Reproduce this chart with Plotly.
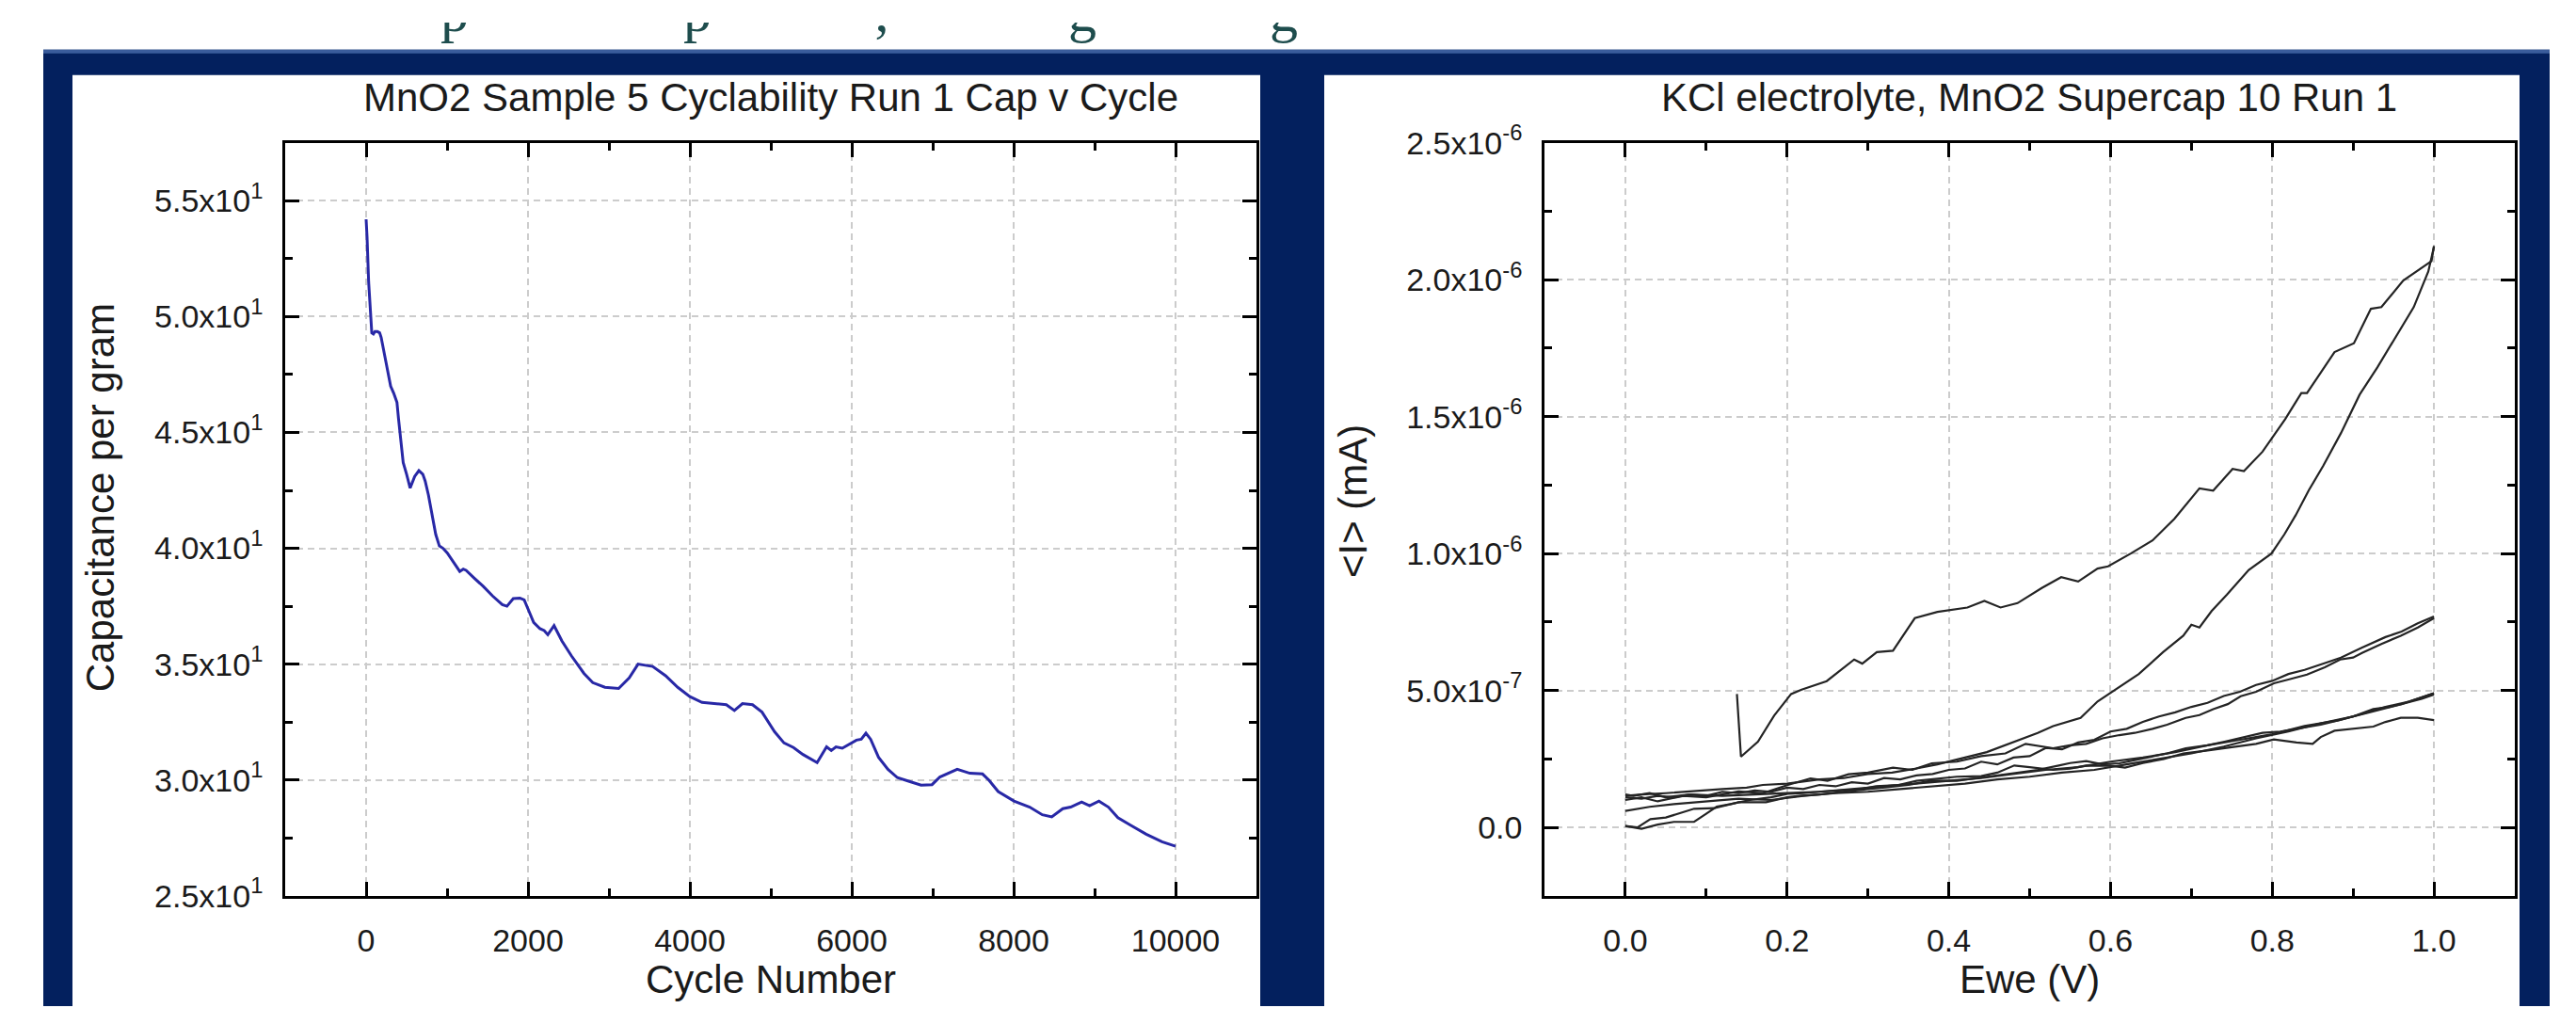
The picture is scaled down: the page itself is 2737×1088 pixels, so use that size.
import plotly.graph_objects as go

W, H = 2737, 1088

# ---------------- Left chart data: capacitance vs cycle ----------------
cycles = [0, 12, 31, 50, 70, 90, 109, 140, 167, 186, 230, 264, 303, 340, 381, 400, 420, 458, 500, 544,
          600, 652, 700, 730, 770, 808, 860, 905, 950, 1002, 1080, 1157, 1200, 1235, 1340, 1449, 1560,
          1682, 1740, 1818, 1900, 1953, 2010, 2070, 2148, 2200, 2245, 2322, 2419, 2536, 2691, 2800,
          2950, 3120, 3250, 3360, 3450, 3540, 3700, 3850, 4000, 4150, 4300, 4450, 4550, 4650, 4774,
          4891, 5047, 5163, 5280, 5397, 5572, 5689, 5747, 5805, 5883, 5981, 6058, 6117, 6175, 6233,
          6331, 6447, 6564, 6720, 6856, 6992, 7089, 7303, 7459, 7615, 7693, 7809, 8004, 8198, 8354,
          8471, 8607, 8704, 8840, 8938, 9054, 9171, 9288, 9444, 9638, 9833, 10000]
capacitance = [54.2, 53.4, 51.5, 50.2, 49.3, 49.25, 49.35, 49.35, 49.3, 49.1, 48.3, 47.6, 47.0, 46.7,
               46.3, 45.6, 45.0, 43.7, 43.2, 42.6, 43.1, 43.35, 43.2, 42.9, 42.3, 41.6, 40.6, 40.1,
               40.0, 39.8, 39.4, 39.0, 39.1, 39.05, 38.7, 38.35, 37.95, 37.57, 37.5, 37.83, 37.85,
               37.77, 37.3, 36.8, 36.53, 36.45, 36.27, 36.66, 36.0, 35.36, 34.6, 34.2, 34.0, 33.95,
               34.4, 35.0, 34.95, 34.9, 34.5, 34.0, 33.6, 33.35, 33.3, 33.25, 33.0, 33.3, 33.25,
               32.93, 32.08, 31.6, 31.4, 31.1, 30.75, 31.43, 31.27, 31.43, 31.37, 31.56, 31.72, 31.76,
               32.02, 31.76, 30.98, 30.46, 30.1, 29.93, 29.78, 29.8, 30.13, 30.46, 30.29, 30.26, 30.0,
               29.5, 29.09, 28.83, 28.5, 28.41, 28.76, 28.83, 29.05, 28.89, 29.09, 28.83, 28.37,
               28.05, 27.66, 27.33, 27.14]

cap_tickvals = [25, 30, 35, 40, 45, 50, 55]
cap_ticktext = ["2.5x10<sup>1</sup>", "3.0x10<sup>1</sup>", "3.5x10<sup>1</sup>", "4.0x10<sup>1</sup>",
                "4.5x10<sup>1</sup>", "5.0x10<sup>1</sup>", "5.5x10<sup>1</sup>"]
cap_minor = [27.5, 32.5, 37.5, 42.5, 47.5, 52.5]

# ---------------- Right chart data: CV sweeps (current in units of 1e-7 mA) ----------------
c1f_v = [0.138, 0.143, 0.164, 0.184, 0.205, 0.218, 0.249, 0.270, 0.283, 0.293, 0.311, 0.331, 0.358,
         0.386, 0.406, 0.423, 0.444, 0.464, 0.485, 0.515, 0.539, 0.560, 0.584, 0.597, 0.625, 0.652,
         0.679, 0.710, 0.727, 0.751, 0.765, 0.788, 0.816, 0.836, 0.843, 0.877, 0.901, 0.922, 0.935,
         0.962, 0.997, 1.0]
c1f_i = [4.87, 2.58, 3.13, 4.08, 4.87, 5.03, 5.34, 5.82, 6.13, 5.98, 6.40, 6.45, 7.64, 7.87, 7.95,
         8.03, 8.27, 8.03, 8.19, 8.74, 9.14, 8.98, 9.45, 9.53, 10.0, 10.48, 11.27, 12.38, 12.30,
         13.09, 13.01, 13.72, 14.91, 15.86, 15.86, 17.36, 17.68, 18.94, 19.0, 19.97, 20.68, 21.23]

c1r_v = [1.0, 0.993, 0.975, 0.952, 0.93, 0.908, 0.885, 0.863, 0.845, 0.829, 0.815, 0.799, 0.785,
         0.771, 0.744, 0.725, 0.71, 0.700, 0.69, 0.665, 0.635, 0.61, 0.584, 0.563, 0.545, 0.529,
         0.51, 0.488, 0.47, 0.447, 0.42, 0.386, 0.36, 0.33, 0.30, 0.27, 0.24, 0.2, 0.17, 0.15, 0.12,
         0.1, 0.07, 0.05, 0.02, 0.0]
c1r_i = [21.2, 20.3, 19.0, 17.9, 16.8, 15.8, 14.4, 13.2, 12.3, 11.4, 10.7, 10.0, 9.7, 9.4, 8.5, 7.9,
         7.3, 7.4, 7.0, 6.4, 5.6, 5.1, 4.6, 4.0, 3.85, 3.7, 3.45, 3.2, 3.0, 2.75, 2.55, 2.3, 2.15,
         2.0, 1.95, 1.8, 1.75, 1.6, 1.55, 1.45, 1.4, 1.35, 1.3, 1.25, 1.2, 1.15]

c2f_v = [0.0, 0.02, 0.04, 0.072, 0.1, 0.14, 0.17, 0.201, 0.229, 0.25, 0.276, 0.3, 0.331, 0.355,
         0.379, 0.41, 0.44, 0.47, 0.495, 0.529, 0.55, 0.57, 0.59, 0.611, 0.63, 0.652, 0.67, 0.693,
         0.71, 0.727, 0.745, 0.761, 0.78, 0.802, 0.82, 0.843, 0.865, 0.884, 0.9, 0.911, 0.935,
         0.959, 0.98, 1.0]
c2f_i = [1.0, 1.1, 0.95, 1.15, 1.1, 1.31, 1.25, 1.55, 1.79, 1.7, 1.94, 2.0, 2.18, 2.1, 2.34, 2.4,
         2.6, 2.7, 3.05, 2.89, 3.0, 3.05, 3.25, 3.37, 3.45, 3.6, 3.75, 4.0, 4.1, 4.32, 4.5, 4.79,
         4.95, 5.26, 5.4, 5.58, 5.85, 6.13, 6.2, 6.37, 6.7, 7.0, 7.3, 7.64]

c2r_v = [1.0, 0.98, 0.96, 0.94, 0.91, 0.885, 0.86, 0.84, 0.82, 0.8, 0.78, 0.76, 0.74, 0.72, 0.7,
         0.68, 0.66, 0.64, 0.62, 0.6, 0.58, 0.56, 0.54, 0.52, 0.5, 0.48, 0.46, 0.44, 0.42, 0.4,
         0.38, 0.36, 0.34, 0.32, 0.3, 0.28, 0.26, 0.24, 0.22, 0.2, 0.18, 0.16, 0.14, 0.12, 0.1,
         0.08, 0.06, 0.04, 0.02, 0.0]
c2r_i = [7.7, 7.45, 7.15, 6.95, 6.55, 6.2, 5.95, 5.75, 5.6, 5.35, 5.2, 4.95, 4.8, 4.55, 4.4, 4.2,
         4.05, 3.85, 3.6, 3.5, 3.2, 3.1, 2.85, 2.9, 2.6, 2.55, 2.3, 2.4, 2.15, 2.1, 1.95, 1.9, 1.75,
         1.8, 1.6, 1.65, 1.5, 1.55, 1.4, 1.45, 1.3, 1.35, 1.25, 1.3, 1.15, 1.2, 1.1, 1.15, 1.05, 1.1]

c3f_v = [0.0, 0.015, 0.031, 0.05, 0.085, 0.11, 0.14, 0.174, 0.2, 0.215, 0.24, 0.27, 0.3, 0.324,
         0.35, 0.379, 0.41, 0.433, 0.46, 0.488, 0.51, 0.536, 0.55, 0.57, 0.59, 0.611, 0.63, 0.652,
         0.67, 0.693, 0.72, 0.741, 0.765, 0.788, 0.81, 0.843, 0.86, 0.884, 0.9, 0.925, 0.945,
         0.966, 0.985, 1.0]
c3f_i = [0.05, 0.0, 0.3, 0.36, 0.68, 0.7, 0.92, 0.92, 1.1, 1.15, 1.2, 1.31, 1.4, 1.47, 1.55, 1.71,
         1.7, 1.79, 1.9, 2.02, 2.1, 2.26, 2.35, 2.42, 2.3, 2.34, 2.45, 2.58, 2.7, 2.89, 3.0, 3.13,
         3.3, 3.45, 3.5, 3.68, 3.75, 3.92, 4.05, 4.32, 4.4, 4.55, 4.7, 4.85]

c3r_v = [1.0, 0.98, 0.959, 0.94, 0.925, 0.9, 0.877, 0.86, 0.85, 0.83, 0.802, 0.78, 0.761, 0.74,
         0.72, 0.69, 0.666, 0.64, 0.618, 0.6, 0.57, 0.55, 0.529, 0.5, 0.481, 0.46, 0.44, 0.41,
         0.386, 0.36, 0.338, 0.31, 0.29, 0.26, 0.242, 0.22, 0.201, 0.18, 0.154, 0.13, 0.113, 0.1,
         0.085, 0.06, 0.04, 0.02, 0.01, 0.0]
c3r_i = [3.92, 4.0, 4.0, 3.85, 3.68, 3.6, 3.53, 3.3, 3.05, 3.1, 3.21, 3.05, 2.97, 2.9, 2.81, 2.7,
         2.5, 2.35, 2.18, 2.25, 2.26, 2.15, 2.1, 2.2, 2.26, 2.0, 1.87, 1.85, 1.79, 1.7, 1.55, 1.5,
         1.39, 1.35, 1.31, 1.25, 1.23, 1.1, 1.0, 0.85, 0.76, 0.5, 0.2, 0.2, 0.1, -0.05, 0.0, 0.05]

c4f_v = [0.0, 0.03, 0.06, 0.1, 0.14, 0.18, 0.22, 0.26, 0.3, 0.34, 0.38, 0.42, 0.46, 0.5, 0.54,
         0.58, 0.62, 0.66, 0.7, 0.74, 0.78, 0.82, 0.86, 0.9, 0.94, 0.97, 1.0]
c4f_i = [0.6, 0.75, 0.85, 0.95, 1.05, 1.0, 1.15, 1.25, 1.3, 1.4, 1.5, 1.6, 1.75, 1.85, 2.0, 2.1,
         2.3, 2.5, 2.7, 2.95, 3.25, 3.5, 3.8, 4.05, 4.4, 4.6, 4.9]

c4r_v = [1.0, 0.96, 0.92, 0.88, 0.84, 0.8, 0.76, 0.72, 0.68, 0.64, 0.6, 0.56, 0.52, 0.48, 0.44,
         0.4, 0.36, 0.32, 0.28, 0.24, 0.2, 0.16, 0.12, 0.08, 0.05, 0.03, 0.01, 0.0]
c4r_i = [4.9, 4.5, 4.2, 3.9, 3.7, 3.4, 3.2, 3.0, 2.75, 2.55, 2.4, 2.2, 2.1, 1.95, 1.8, 1.7, 1.6,
         1.5, 1.4, 1.3, 1.25, 1.2, 1.15, 1.2, 1.1, 1.25, 1.15, 1.2]

sweeps = [(c1f_v, c1f_i), (c1r_v, c1r_i), (c2f_v, c2f_i), (c2r_v, c2r_i),
          (c3f_v, c3f_i), (c3r_v, c3r_i), (c4f_v, c4f_i), (c4r_v, c4r_i)]
CURRENT_UNIT = 1e-7

cur_tickvals = [0, 5e-7, 1e-6, 1.5e-6, 2e-6, 2.5e-6]
cur_ticktext = ["0.0", "5.0x10<sup>-7</sup>", "1.0x10<sup>-6</sup>", "1.5x10<sup>-6</sup>",
                "2.0x10<sup>-6</sup>", "2.5x10<sup>-6</sup>"]
cur_minor = [2.5e-7, 7.5e-7, 1.25e-6, 1.75e-6, 2.25e-6]

# cropped slide heading above the frame: only the lower parts of these glyphs show
heading_glyphs = ["p", "p", ",", "g", "g"]
heading_glyph_x = [483, 741, 937, 1150, 1364]

# ---------------- helpers ----------------
def px(x):
    return x / W

def py(y):
    return 1 - y / H

FONT = "Liberation Sans, Arial, sans-serif"
TXT = "#1a1a1a"

fig = go.Figure()

fig.add_trace(go.Scatter(x=cycles, y=capacitance, mode="lines",
                         line=dict(color="#2828A6", width=3),
                         xaxis="x", yaxis="y", showlegend=False))

for v, i in sweeps:
    fig.add_trace(go.Scatter(x=v, y=[k * CURRENT_UNIT for k in i], mode="lines",
                             line=dict(color="#242424", width=2.2),
                             xaxis="x2", yaxis="y2", showlegend=False))

# clipped heading strip (text clipped by its own invisible axes)
fig.add_trace(go.Scatter(x=heading_glyph_x, y=[-6] * len(heading_glyph_x), mode="text",
                         text=heading_glyphs, textposition="middle center", cliponaxis=True,
                         textfont=dict(family="Liberation Serif, Times New Roman, serif",
                                       size=60, color="#1E4D4D"),
                         xaxis="x3", yaxis="y3", showlegend=False, hoverinfo="skip"))

axis_common = dict(
    showline=True, linecolor="black", linewidth=2.6, mirror="ticks",
    ticks="inside", ticklen=15, tickwidth=2.6, tickcolor="black",
    showgrid=True, gridcolor="#CCCCCC", gridwidth=1.5, griddash="7px,5px",
    zeroline=False,
    tickfont=dict(family=FONT, size=34, color=TXT),
)

fig.update_layout(
    width=W, height=H, autosize=False,
    margin=dict(l=0, r=0, t=0, b=0, pad=0),
    paper_bgcolor="white", plot_bgcolor="rgba(0,0,0,0)",
    xaxis=dict(domain=[px(303), px(1335)], anchor="y", range=[-1000, 11000],
               tickmode="linear", tick0=0, dtick=2000, tickformat="d", ticklabelstandoff=16,
               minor=dict(ticks="inside", ticklen=8, tickwidth=2.6, tickcolor="black",
                          dtick=1000, tick0=0, showgrid=False),
               **axis_common),
    yaxis=dict(domain=[py(966), py(133)], anchor="x", range=[25, 57.5],
               tickmode="array", tickvals=cap_tickvals, ticktext=cap_ticktext,
               ticklabelstandoff=14,
               minor=dict(ticks="inside", ticklen=8, tickwidth=2.6, tickcolor="black",
                          tickvals=cap_minor, showgrid=False),
               **axis_common),
    xaxis2=dict(domain=[px(1641), px(2672)], anchor="y2", range=[-0.1, 1.1],
                tickmode="linear", tick0=0, dtick=0.2, tickformat=".1f",
                ticklabelstandoff=16,
                minor=dict(ticks="inside", ticklen=8, tickwidth=2.6, tickcolor="black",
                           dtick=0.1, tick0=0, showgrid=False),
                **axis_common),
    yaxis2=dict(domain=[py(966), py(133)], anchor="x2", range=[-2.5e-7, 2.5e-6],
                tickmode="array", tickvals=cur_tickvals, ticktext=cur_ticktext,
                ticklabelstandoff=14,
                minor=dict(ticks="inside", ticklen=8, tickwidth=2.6, tickcolor="black",
                           tickvals=cur_minor, showgrid=False),
                **axis_common),
    xaxis3=dict(domain=[0, 1], anchor="y3", range=[0, W], visible=False, fixedrange=True),
    yaxis3=dict(domain=[py(30), 1], anchor="x3", range=[30, 0], visible=False, fixedrange=True),
)

# background frame
shapes = [
    dict(type="rect", xref="paper", yref="paper", x0=px(46), x1=px(2709), y0=0, y1=py(30),
         fillcolor="#03205E", line=dict(width=0), layer="below"),
    dict(type="rect", xref="paper", yref="paper", x0=px(46), x1=px(2709), y0=py(34), y1=py(30),
         fillcolor="#3A5C9C", line=dict(width=0), layer="below"),
    dict(type="rect", xref="paper", yref="paper", x0=px(77), x1=px(1339), y0=0, y1=py(58),
         fillcolor="white", line=dict(width=0), layer="below"),
    dict(type="rect", xref="paper", yref="paper", x0=px(1407), x1=px(2677), y0=0, y1=py(58),
         fillcolor="white", line=dict(width=0), layer="below"),
]
fig.update_layout(shapes=shapes)

ann = []
def text(t, x, y, size, angle=0, color=TXT, family=FONT):
    ann.append(dict(text=t, x=px(x), y=py(y), xref="paper", yref="paper", showarrow=False,
                    textangle=angle, xanchor="center", yanchor="middle",
                    font=dict(family=family, size=size, color=color)))

text("MnO2 Sample 5 Cyclability Run 1 Cap v Cycle", 819, 83, 42)
text("KCl electrolyte, MnO2 Supercap 10 Run 1", 2156, 83, 42)
text("Capacitance per gram", 106, 526, 42, angle=-90)
text("&lt;I&gt; (mA)", 1437, 530, 42, angle=-90)
text("Cycle Number", 819, 1058, 42)
text("Ewe (V)", 2156, 1058, 42)

fig.update_layout(annotations=ann)

fig.write_html("out.html", config={"displayModeBar": False},
               post_script="document.body.style.margin='0';document.body.style.overflow='hidden';")
